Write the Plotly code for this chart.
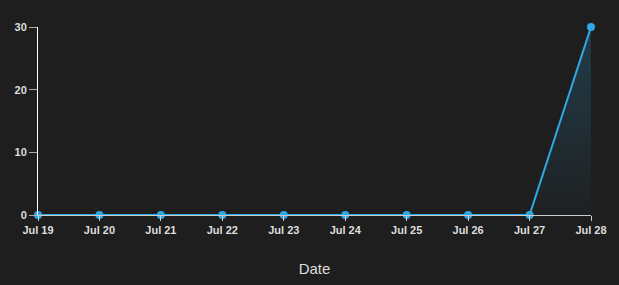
import plotly.graph_objects as go

dates = ["Jul 19", "Jul 20", "Jul 21", "Jul 22", "Jul 23", "Jul 24", "Jul 25", "Jul 26", "Jul 27", "Jul 28"]
values = [0, 0, 0, 0, 0, 0, 0, 0, 0, 30]
y_ticks = [0, 10, 20, 30]

line_color = "#2fa9e4"
bg = "#1e1e1e"

fig = go.Figure()
fig.add_trace(go.Scatter(
    x=dates, y=values, mode="lines+markers",
    line=dict(color=line_color, width=2),
    marker=dict(color=line_color, size=8),
    fill="tozeroy",
    fillgradient=dict(type="vertical",
                      colorscale=[[0, "rgba(47,169,228,0.02)"], [1, "rgba(47,169,228,0.22)"]]),
    cliponaxis=False,
    hoverinfo="x+y",
))

fig.update_layout(
    width=619, height=285,
    paper_bgcolor=bg, plot_bgcolor=bg,
    margin=dict(l=38, r=28, t=27, b=70),
    showlegend=False,
    font=dict(family="Liberation Sans, Arial, sans-serif", color="#dddddd"),
    xaxis=dict(
        type="category", range=[0, 9], showgrid=False, zeroline=False,
        automargin=False,
        showline=True, linecolor="#cccccc", linewidth=1,
        ticks="outside", ticklen=5, tickcolor="#cccccc",
        tickfont=dict(size=11, color="#dddddd", weight="bold"),
        title=dict(text="Date", font=dict(size=15, color="#dddddd"), standoff=28),
    ),
    yaxis=dict(
        range=[0, 30], tickvals=y_ticks, showgrid=False, zeroline=False,
        automargin=False,
        showline=True, linecolor="#ffffff", linewidth=1,
        ticks="outside", ticklen=8, tickcolor="#aaaaaa",
        tickfont=dict(size=11, color="#dddddd", weight="bold"),
    ),
)

fig.write_html("out.html")
